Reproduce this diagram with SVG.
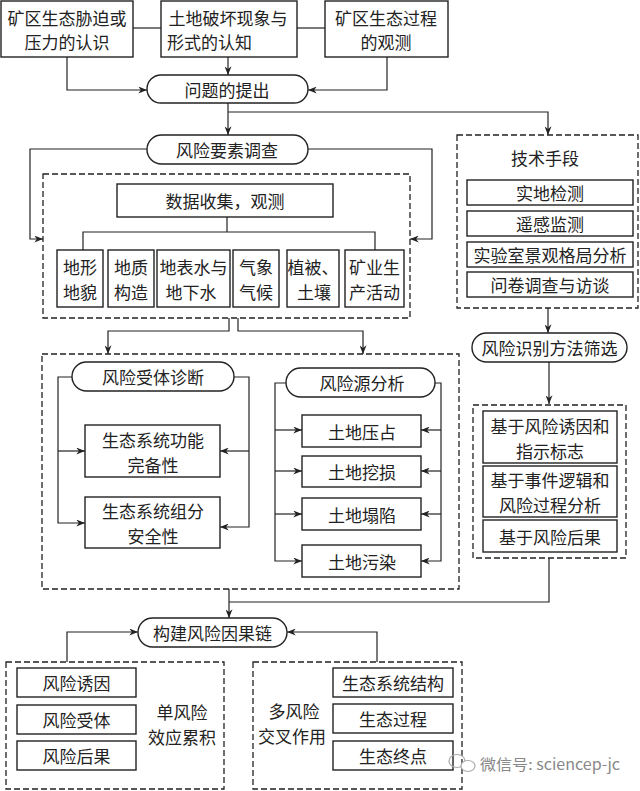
<svg xmlns="http://www.w3.org/2000/svg" width="640" height="791" viewBox="0 0 640 791">
<style>
.box{fill:#fff;stroke:#222;stroke-width:1.4}
.dash{fill:none;stroke:#222;stroke-width:1.3;stroke-dasharray:6 3}
.ln{fill:none;stroke:#222;stroke-width:1.2}
.ar{fill:none;stroke:#222;stroke-width:1.2;marker-end:url(#ah)}
.t{font-family:"Noto Sans CJK SC","Noto Sans",sans-serif;font-size:17px;fill:#222;text-anchor:middle;dominant-baseline:central}
.s{text-anchor:start}
.wm{font-family:"Noto Sans CJK SC","Noto Sans",sans-serif;font-size:15px;fill:#888;dominant-baseline:central}
</style>
<defs>
<marker id="ah" viewBox="0 0 10 8" refX="10" refY="4" markerWidth="9" markerHeight="7" orient="auto" markerUnits="userSpaceOnUse">
<path d="M0,0 L10,4 L0,8 L3,4 z" fill="#222"/>
</marker>
</defs>
<rect width="640" height="791" fill="#fff"/>

<g id="connectors">
<line class="ln" x1="133" y1="28" x2="161" y2="28"/>
<line class="ln" x1="297" y1="28" x2="325" y2="28"/>
<path class="ar" d="M228,57 V75"/>
<path class="ar" d="M67,57 V90 H147"/>
<path class="ar" d="M387,57 V90 H308"/>
<path class="ar" d="M228,103 V135"/>
<path class="ar" d="M228,112 H548 V135"/>
<path class="ar" d="M147,149 H30 V239 H43"/>
<path class="ar" d="M308,149 H432 V239 H410"/>
<path class="ln" d="M227,217 V232 M83,250 V232 H375 V250"/>
<path class="ar" d="M229,318 V331 H108 V354"/>
<path class="ar" d="M238,318 V331 H363 V354"/>
<path class="ar" d="M72,377 H58 V523 H85"/>
<path class="ar" d="M58,451 H85"/>
<path class="ar" d="M234,377 H249 V527 H220"/>
<path class="ar" d="M249,451 H220"/>
<path class="ar" d="M286,383 H275 V561 H302"/>
<path class="ar" d="M275,430 H302"/>
<path class="ar" d="M275,471 H302"/>
<path class="ar" d="M275,514 H302"/>
<path class="ar" d="M435,383 H441 V561 H421"/>
<path class="ar" d="M441,430 H421"/>
<path class="ar" d="M441,471 H421"/>
<path class="ar" d="M441,514 H421"/>
<path class="ar" d="M548,308 V333"/>
<path class="ar" d="M549,362 V404"/>
<path class="ln" d="M549,558 V602 H229"/>
<path class="ar" d="M229,589 V618"/>
<path class="ar" d="M67,662 V632 H138"/>
<path class="ar" d="M377,662 V632 H287"/>
</g>

<g id="n-stress">
<rect class="box" x="1" y="1" width="132" height="56"/>
<text class="t" x="67" y="17">矿区生态胁迫或</text>
<text class="t" x="67" y="41">压力的认识</text>
</g>
<g id="n-damage">
<rect class="box" x="161" y="1" width="136" height="56"/>
<text class="t" x="228" y="17">土地破坏现象与</text>
<text class="t s" x="167" y="41">形式的认知</text>
</g>
<g id="n-process">
<rect class="box" x="325" y="1" width="123" height="56"/>
<text class="t" x="386" y="17">矿区生态过程</text>
<text class="t" x="386" y="41">的观测</text>
</g>
<g id="n-question">
<rect class="box" x="147" y="75" width="161" height="28" rx="14"/>
<text class="t" x="227" y="89">问题的提出</text>
</g>
<g id="n-survey">
<rect class="box" x="147" y="135" width="161" height="29" rx="14.5"/>
<text class="t" x="227" y="149.5">风险要素调查</text>
</g>

<g id="g-factors">
<rect class="dash" x="43" y="174" width="367" height="144"/>
<g id="n-data">
<rect class="box" x="117" y="184" width="216" height="33"/>
<text class="t" x="225" y="200.5">数据收集，观测</text>
</g>
<g id="n-f1"><rect class="box" x="57" y="250" width="46" height="57"/>
<text class="t" x="80" y="266">地形</text><text class="t" x="80" y="291">地貌</text></g>
<g id="n-f2"><rect class="box" x="108" y="250" width="46" height="57"/>
<text class="t" x="131" y="266">地质</text><text class="t" x="131" y="291">构造</text></g>
<g id="n-f3"><rect class="box" x="157" y="250" width="73" height="57"/>
<text class="t" x="193.5" y="266">地表水与</text><text class="t" x="191" y="291">地下水</text></g>
<g id="n-f4"><rect class="box" x="233" y="250" width="46" height="57"/>
<text class="t" x="256" y="266">气象</text><text class="t" x="256" y="291">气候</text></g>
<g id="n-f5"><rect class="box" x="287" y="250" width="52" height="57"/>
<text class="t" x="313" y="266">植被、</text><text class="t" x="314" y="291">土壤</text></g>
<g id="n-f6"><rect class="box" x="345" y="250" width="59" height="57"/>
<text class="t" x="374.5" y="266">矿业生</text><text class="t" x="374.5" y="291">产活动</text></g>
</g>

<g id="g-analysis">
<rect class="dash" x="42" y="354" width="417" height="235"/>
<g id="n-receptor">
<rect class="box" x="72" y="362" width="162" height="29" rx="14.5"/>
<text class="t" x="153" y="376.5">风险受体诊断</text>
</g>
<g id="n-func">
<rect class="box" x="85" y="425" width="135" height="52"/>
<text class="t" x="153" y="439">生态系统功能</text>
<text class="t" x="153" y="464">完备性</text>
</g>
<g id="n-comp">
<rect class="box" x="85" y="497" width="135" height="51"/>
<text class="t" x="153" y="510">生态系统组分</text>
<text class="t" x="153" y="535">安全性</text>
</g>
<g id="n-source">
<rect class="box" x="286" y="368" width="149" height="29" rx="14.5"/>
<text class="t" x="362" y="382.5">风险源分析</text>
</g>
<g id="n-s1"><rect class="box" x="302" y="415" width="119" height="32"/>
<text class="t" x="362" y="431">土地压占</text></g>
<g id="n-s2"><rect class="box" x="302" y="456" width="119" height="31"/>
<text class="t" x="362" y="471.5">土地挖损</text></g>
<g id="n-s3"><rect class="box" x="302" y="498" width="119" height="32"/>
<text class="t" x="362" y="514">土地塌陷</text></g>
<g id="n-s4"><rect class="box" x="302" y="545" width="119" height="32"/>
<text class="t" x="362" y="561">土地污染</text></g>
</g>

<g id="g-tech">
<rect class="dash" x="457" y="135" width="181" height="173"/>
<text class="t" x="545" y="157">技术手段</text>
<g id="n-t1"><rect class="box" x="467" y="180" width="166" height="25"/>
<text class="t" x="550" y="192.5">实地检测</text></g>
<g id="n-t2"><rect class="box" x="467" y="211" width="166" height="25"/>
<text class="t" x="550" y="223.5">遥感监测</text></g>
<g id="n-t3"><rect class="box" x="467" y="242" width="166" height="25"/>
<text class="t" x="550" y="254.5">实验室景观格局分析</text></g>
<g id="n-t4"><rect class="box" x="467" y="272" width="166" height="25"/>
<text class="t" x="550" y="284.5">问卷调查与访谈</text></g>
</g>
<g id="n-method">
<rect class="box" x="472" y="333" width="155" height="29" rx="14.5"/>
<text class="t" x="549.5" y="347.5">风险识别方法筛选</text>
</g>
<g id="g-methods">
<rect class="dash" x="473" y="405" width="153" height="153"/>
<g id="n-m1"><rect class="box" x="483" y="411" width="134" height="52"/>
<text class="t" x="550" y="425">基于风险诱因和</text>
<text class="t" x="550" y="450">指示标志</text></g>
<g id="n-m2"><rect class="box" x="483" y="466" width="134" height="51"/>
<text class="t" x="550" y="479">基于事件逻辑和</text>
<text class="t" x="550" y="504">风险过程分析</text></g>
<g id="n-m3"><rect class="box" x="483" y="520" width="134" height="32"/>
<text class="t" x="550" y="536">基于风险后果</text></g>
</g>

<g id="n-chain">
<rect class="box" x="138" y="618" width="149" height="29" rx="14.5"/>
<text class="t" x="212.5" y="632.5">构建风险因果链</text>
</g>

<g id="g-single">
<rect class="dash" x="6" y="662" width="218" height="127"/>
<g id="n-b1"><rect class="box" x="17" y="668" width="119" height="29"/>
<text class="t" x="76.5" y="682.5">风险诱因</text></g>
<g id="n-b2"><rect class="box" x="17" y="705" width="119" height="29"/>
<text class="t" x="76.5" y="719.5">风险受体</text></g>
<g id="n-b3"><rect class="box" x="17" y="741" width="119" height="29"/>
<text class="t" x="76.5" y="755.5">风险后果</text></g>
<text class="t" x="182" y="711">单风险</text>
<text class="t" x="182" y="736">效应累积</text>
</g>

<g id="g-multi">
<rect class="dash" x="253" y="662" width="209" height="127"/>
<g id="n-c1"><rect class="box" x="333" y="668" width="120" height="29"/>
<text class="t" x="393" y="682.5">生态系统结构</text></g>
<g id="n-c2"><rect class="box" x="333" y="704" width="120" height="29"/>
<text class="t" x="393" y="718.5">生态过程</text></g>
<g id="n-c3"><rect class="box" x="333" y="741" width="120" height="29"/>
<text class="t" x="393" y="755.5">生态终点</text></g>
<text class="t" x="294" y="710">多风险</text>
<text class="t" x="292" y="735">交叉作用</text>
</g>

<g id="watermark">
<ellipse cx="457" cy="761" rx="8" ry="6.5" fill="none" stroke="#aaa" stroke-width="1.2"/>
<ellipse cx="468" cy="766" rx="7" ry="5.5" fill="#fff" stroke="#aaa" stroke-width="1.2"/>
<text class="wm" x="480" y="763" textLength="140" lengthAdjust="spacingAndGlyphs">微信号: sciencep-jc</text>
</g>
</svg>
